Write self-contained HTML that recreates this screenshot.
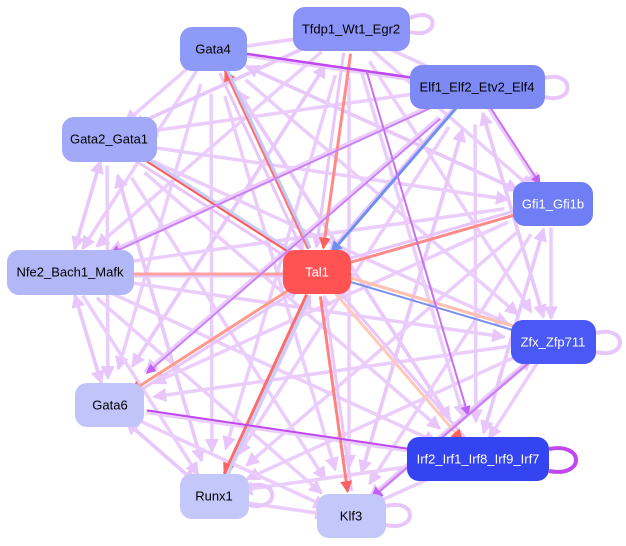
<!DOCTYPE html>
<html><head><meta charset="utf-8"><style>
html,body{margin:0;padding:0;background:#fff;width:626px;height:546px;overflow:hidden}
svg{display:block}
text{font-family:"Liberation Sans",sans-serif;font-size:13px;text-anchor:middle;dominant-baseline:central}
</style></head><body>
<svg id="s" width="626" height="546" viewBox="0 0 626 546">
<defs>
<marker id="ml" markerWidth="4" markerHeight="4" refX="3.5" refY="2" orient="auto" markerUnits="strokeWidth"><path d="M0,0L4,2L0,4z" fill="#e8c6fb"/></marker>
<marker id="mp" markerWidth="5" markerHeight="5" refX="4.5" refY="2.5" orient="auto" markerUnits="strokeWidth"><path d="M0,0L5,2.5L0,5z" fill="#c060f5"/></marker>
<marker id="mr" markerWidth="4" markerHeight="4" refX="3.5" refY="2" orient="auto" markerUnits="strokeWidth"><path d="M0,0L4,2L0,4z" fill="#ff6060"/></marker>
<marker id="mb" markerWidth="4" markerHeight="4" refX="3.5" refY="2" orient="auto" markerUnits="strokeWidth"><path d="M0,0L4,2L0,4z" fill="#7090f0"/></marker>
</defs>
<g id="edges"></g>
<g fill="none" stroke-width="4">
<path d="M410,18 C440,5 440,40 410,32" stroke="#e8c6fb"/>
<path d="M545,78 C575,70 575,105 545,97" stroke="#e8c6fb"/>
<path d="M596,333 C628,325 628,360 596,352" stroke="#e8c6fb"/>
<path d="M549,449 C585,442 585,478 549,471" stroke="#c048f0"/>
<path d="M249,486 C280,478 280,512 249,505" stroke="#e8c6fb"/>
<path d="M386,506 C418,498 418,532 386,525" stroke="#e8c6fb"/>
</g>
<g id="nodes">
<rect x="180" y="27" width="67" height="44" rx="12" fill="#8e9af8"/><text x="213" y="49">Gata4</text>
<rect x="293" y="7" width="117" height="44" rx="12" fill="#8a93f7"/><text x="351" y="29">Tfdp1_Wt1_Egr2</text>
<rect x="410" y="65" width="135" height="44" rx="12" fill="#7d89f5"/><text x="477" y="87">Elf1_Elf2_Etv2_Elf4</text>
<rect x="62" y="117" width="95" height="45" rx="12" fill="#a2aaf8"/><text x="109" y="139">Gata2_Gata1</text>
<rect x="513" y="182" width="80" height="44" rx="12" fill="#6f7ef5"/><text x="553" y="204" fill="#fff">Gfi1_Gfi1b</text>
<rect x="7" y="250" width="127" height="45" rx="12" fill="#b2b7f8"/><text x="70" y="272">Nfe2_Bach1_Mafk</text>
<rect x="283" y="250" width="68" height="44" rx="12" fill="#ff5252"/><text x="317" y="272" fill="#fff">Tal1</text>
<rect x="511" y="320" width="85" height="44" rx="12" fill="#4a58f5"/><text x="553" y="342" fill="#fff">Zfx_Zfp711</text>
<rect x="75" y="383" width="69" height="44" rx="12" fill="#c0c4f9"/><text x="110" y="405">Gata6</text>
<rect x="407" y="437" width="142" height="44" rx="12" fill="#3444f0"/><text x="478" y="459" fill="#fff">Irf2_Irf1_Irf8_Irf9_Irf7</text>
<rect x="180" y="474" width="69" height="45" rx="12" fill="#c4c7f9"/><text x="214" y="496">Runx1</text>
<rect x="317" y="494" width="69" height="44" rx="12" fill="#c4c7f9"/><text x="351" y="516">Klf3</text>
</g>
</svg>
<script>
var N={g4:[213,49],tf:[351,29],el:[477,87],g2:[109,139],gf:[553,204],nf:[70,272],t:[317,272],zf:[553,342],g6:[110,405],ir:[478,459],ru:[214,496],kl:[351,516]};
var outer=['g4','tf','el','g2','gf','nf','zf','g6','ir','ru','kl'];
var g=document.getElementById('edges');var ns='http://www.w3.org/2000/svg';
function ln(a,b,c,w,m,o1){var A=N[a],B=N[b];var dx=B[0]-A[0],dy=B[1]-A[1],L=Math.hypot(dx,dy);var px=-dy/L*(o1||0),py=dx/L*(o1||0);
var s=0.1,e=0.9;if(L<200){s=0.17;e=0.83}
var l=document.createElementNS(ns,'line');l.setAttribute('x1',A[0]+dx*s+px);l.setAttribute('y1',A[1]+dy*s+py);l.setAttribute('x2',A[0]+dx*e+px);l.setAttribute('y2',A[1]+dy*e+py);
l.setAttribute('stroke',c);l.setAttribute('stroke-width',w);if(m)l.setAttribute('marker-end','url(#'+m+')');g.appendChild(l);}
for(var i=0;i<outer.length;i++)for(var j=i+1;j<outer.length;j++){ln(outer[i],outer[j],'#ebcdfc',3.5,'ml',2);if((i+j)%4==0)ln(outer[j],outer[i],'#e8c8fb',3.5,'ml',-2);}
['g4','tf','g2','nf','g6','ru','kl','gf','zf','ir','el'].forEach(function(k){ln(k,'t','#e8c6fb',3,'ml',4);});
ln('tf','t','#ff8a8a',3,'mr',-3);ln('t','g4','#ff7070',3,'mr',2);ln('t','g2','#ff5858',3,'mr',2);ln('t','gf','#ff8a8a',3,'mr',0);
ln('t','ru','#ff6a6a',3,'mr',0);ln('t','kl','#ff8080',3,'mr',0);ln('t','g6','#ff9a8a',3,'mr',0);ln('t','nf','#ffa0a0',3,'mr',-2);ln('t','zf','#ffc0b0',3,'mr',-4);ln('t','ir','#ffc8b8',3,'mr',0);
ln('el','t','#7090f0',3,'mb',2);ln('zf','t','#7a90f0',2,'mb',0);ln('g4','t','#c0c8f8',3,null,-4);ln('g2','t','#c8cef8',3,null,-4);ln('ru','t','#c8cef8',3,null,3);
ln('g4','el','#c048f0',2.5,'mp',0);ln('g6','ir','#c048f0',2,'mp',0);ln('tf','ir','#c870f0',2,'mp',-3);ln('el','gf','#d070f0',2,'mp',0);
ln('el','g6','#cc80f5',2,'mp',0);ln('zf','kl','#cc80f5',2.5,'mp',0);ln('el','nf','#cc80f5',2,'mp',0);
</script>
</body></html>
